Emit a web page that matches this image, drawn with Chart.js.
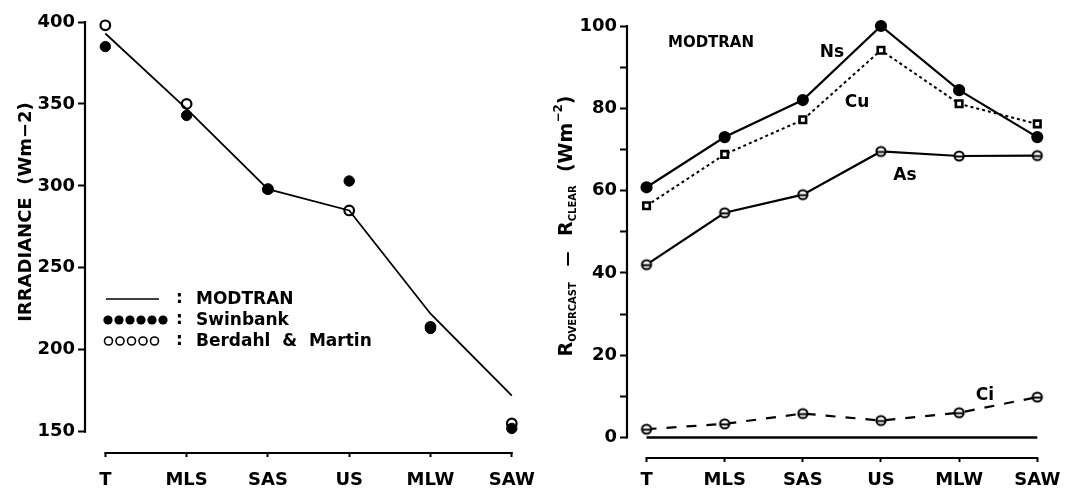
<!DOCTYPE html>
<html>
<head>
<meta charset="utf-8">
<script src="https://cdn.jsdelivr.net/npm/chart.js@4.4.1/dist/chart.umd.min.js"></script>
<style>
  html, body { margin: 0; padding: 0; background: #fff; }
  #wrap { position: relative; width: 1085px; height: 494px; }
  .panel { position: absolute; top: 0; height: 494px; }
  #p1 { left: 0; width: 540px; }
  #p2 { left: 540px; width: 545px; }
</style>
</head>
<body>
<div id="wrap">
  <div class="panel" id="p1"><canvas id="c1" width="540" height="494"></canvas></div>
  <div class="panel" id="p2"><canvas id="c2" width="545" height="494"></canvas></div>
</div>
<script>
// Standard atmospheres
const atmospheres = ['T', 'MLS', 'SAS', 'US', 'MLW', 'SAW'];

// Clear-sky downward irradiance (W m-2)
const modtranIrr  = [393, 347, 298, 285, 222, 172];
const swinbankIrr = [385, 343, 298, 303, 213, 152];
const berdahlIrr  = [398, 350, 298, 285, 214, 155];
const irrTicks    = [150, 200, 250, 300, 350, 400];

// Overcast minus clear irradiance (W m-2), MODTRAN, per cloud type
const nsForcing    = [60.8, 73, 82, 100, 84.4, 73];
const cuForcing    = [56.3, 68.8, 77.2, 94.1, 81.1, 76.2];
const asForcing    = [42, 54.6, 59, 69.5, 68.4, 68.5];
const ciForcing    = [2, 3.3, 5.8, 4.1, 6, 9.8];
const clearForcing = [0, 0, 0, 0, 0, 0];
const forcingTicks = [0, 10, 20, 30, 40, 50, 60, 70, 80, 90, 100];

const FONT = '"DejaVu Sans", sans-serif';
const tickFont = { family: FONT, size: 18, weight: 'bold' };

const toXY = vals => vals.map((v, i) => ({ x: i, y: v }));

// keep the plot area fixed: no extra room reserved for overhanging tick labels
const fixX = h => s => { s.height = h; s.paddingLeft = 0; s.paddingRight = 0; };
const fixY = w => s => { s.width = w; s.paddingTop = 0; s.paddingBottom = 0; };

// circle with a horizontal bar through it
function barCircle(r, lw) {
  const s = Math.ceil(2 * r + lw + 2);
  const c = document.createElement('canvas');
  c.width = c.height = s;
  const g = c.getContext('2d');
  g.fillStyle = '#fff'; g.strokeStyle = '#000'; g.lineWidth = lw;
  g.beginPath(); g.arc(s / 2, s / 2, r, 0, Math.PI * 2); g.fill(); g.stroke();
  g.beginPath(); g.moveTo(s / 2 - r, s / 2 + 0.5); g.lineTo(s / 2 + r, s / 2 + 0.5); g.stroke();
  return c;
}
const barMarker = barCircle(4.6, 2);

// detached axis lines: y from the top tick to the bottom tick, x from first to last category
const axisLines = {
  id: 'axisLines',
  afterDraw(chart, args, opts) {
    const { ctx, chartArea, scales: { x, y } } = chart;
    ctx.save();
    ctx.strokeStyle = '#000';
    ctx.lineWidth = 2.2;
    ctx.beginPath();
    ctx.moveTo(chartArea.left, y.getPixelForValue(opts.yTop) - 1);
    ctx.lineTo(chartArea.left, y.getPixelForValue(opts.yBottom) + 1);
    ctx.moveTo(x.getPixelForValue(0) - 1, chartArea.bottom);
    ctx.lineTo(x.getPixelForValue(atmospheres.length - 1) + 1, chartArea.bottom);
    ctx.stroke();
    ctx.restore();
  }
};

// rotated axis title built from runs (normal / subscript / superscript)
function drawRunsRotated(ctx, runs, cy, baseX) {
  ctx.save();
  ctx.translate(baseX, cy);
  ctx.rotate(-Math.PI / 2);
  ctx.fillStyle = '#000';
  ctx.textBaseline = 'alphabetic';
  let total = 0;
  runs.forEach(r => { ctx.font = `bold ${r.size}px ${FONT}`; r.w = ctx.measureText(r.t).width; total += r.w; });
  let x = -total / 2;
  runs.forEach(r => {
    ctx.font = `bold ${r.size}px ${FONT}`;
    ctx.fillText(r.t, x, r.dy || 0);
    x += r.w;
  });
  ctx.restore();
}

const irrTitle = {
  id: 'irrTitle',
  afterDraw(chart) {
    drawRunsRotated(chart.ctx, [
      { t: 'IRRADIANCE  (Wm\u22122)', size: 18 }
    ], 212, 31);
  }
};

const irrLegend = {
  id: 'irrLegend',
  afterDraw(chart) {
    const ctx = chart.ctx;
    ctx.save();
    ctx.fillStyle = '#000';
    ctx.strokeStyle = '#000';
    ctx.font = `bold 17px ${FONT}`;
    ctx.textBaseline = 'middle';
    const rows = [
      { y: 299, label: 'MODTRAN' },
      { y: 320, label: 'Swinbank' },
      { y: 341, label: 'Berdahl  &  Martin' }
    ];
    // sample line
    ctx.lineWidth = 1.6;
    ctx.beginPath(); ctx.moveTo(106, rows[0].y); ctx.lineTo(159, rows[0].y); ctx.stroke();
    // filled dots
    for (let i = 0; i < 6; i++) {
      ctx.beginPath(); ctx.arc(108 + i * 11, rows[1].y, 4.6, 0, Math.PI * 2); ctx.fill();
    }
    // open circles
    ctx.lineWidth = 1.6;
    for (let i = 0; i < 5; i++) {
      ctx.beginPath(); ctx.arc(108.5 + i * 11.5, rows[2].y, 4, 0, Math.PI * 2); ctx.stroke();
    }
    rows.forEach(r => {
      ctx.fillText(':', 176, r.y);
      ctx.fillText(r.label, 196, r.y + 1);
    });
    ctx.restore();
  }
};

new Chart(document.getElementById('c1'), {
  type: 'line',
  data: {
    datasets: [
      { label: 'MODTRAN', data: toXY(modtranIrr), borderColor: '#000', borderWidth: 1.8,
        pointRadius: 0, tension: 0, clip: false },
      { label: 'Swinbank', data: toXY(swinbankIrr), showLine: false, pointStyle: 'circle',
        pointRadius: 5.2, pointBackgroundColor: '#000', pointBorderColor: '#000', pointBorderWidth: 1, clip: false },
      { label: 'Berdahl & Martin', data: toXY(berdahlIrr), showLine: false, pointStyle: 'circle',
        pointRadius: 4.8, pointBackgroundColor: '#fff', pointBorderColor: '#000', pointBorderWidth: 2.2, clip: false }
    ]
  },
  options: {
    responsive: false,
    animation: false,
    layout: { padding: { top: 22, right: 16, bottom: 0, left: 0 } },
    plugins: { legend: { display: false }, tooltip: { enabled: false },
      axisLines: { yTop: 400, yBottom: 150 } },
    scales: {
      x: {
        type: 'linear', min: -0.25, max: 5.15,
        afterBuildTicks: s => { s.ticks = atmospheres.map((_, i) => ({ value: i })); },
        afterFit: fixX(41),
        ticks: { callback: v => atmospheres[v], font: tickFont, color: '#000', padding: 13,
                 maxRotation: 0, autoSkip: false },
        grid: { drawOnChartArea: false, drawTicks: true, tickLength: 4, tickWidth: 2, color: '#000' },
        border: { display: false }
      },
      y: {
        min: 137, max: 400,
        afterBuildTicks: s => { s.ticks = irrTicks.map(v => ({ value: v })); },
        afterFit: fixY(85),
        ticks: { font: tickFont, color: '#000', padding: 3 },
        grid: { drawOnChartArea: false, drawTicks: true, tickLength: 7, tickWidth: 2, color: '#000' },
        border: { display: false }
      }
    }
  },
  plugins: [axisLines, irrTitle, irrLegend]
});

const forcingTitle = {
  id: 'forcingTitle',
  afterDraw(chart) {
    drawRunsRotated(chart.ctx, [
      { t: 'R', size: 19 },
      { t: 'OVERCAST', size: 10, dy: 4 },
      { t: '   \u2014   ', size: 15 },
      { t: 'R', size: 19 },
      { t: 'CLEAR', size: 10, dy: 4 },
      { t: '  (Wm', size: 19 },
      { t: '\u22122', size: 12, dy: -10 },
      { t: ')', size: 19 }
    ], 226, 32);
  }
};

const cloudLabels = {
  id: 'cloudLabels',
  afterDraw(chart) {
    const ctx = chart.ctx;
    ctx.save();
    ctx.fillStyle = '#000';
    ctx.textAlign = 'center';
    ctx.textBaseline = 'middle';
    ctx.font = `bold 15px ${FONT}`;
    ctx.fillText('MODTRAN', 171, 43);
    ctx.font = `bold 17px ${FONT}`;
    ctx.fillText('Ns', 292, 53);
    ctx.fillText('Cu', 317, 103);
    ctx.fillText('As', 365, 176);
    ctx.fillText('Ci', 445, 396);
    ctx.restore();
  }
};

new Chart(document.getElementById('c2'), {
  type: 'line',
  data: {
    datasets: [
      { label: 'Ns', data: toXY(nsForcing), borderColor: '#000', borderWidth: 2.2, tension: 0,
        pointStyle: 'circle', pointRadius: 5, pointBackgroundColor: '#000', pointBorderColor: '#000', clip: false },
      { label: 'Cu', data: toXY(cuForcing), borderColor: '#000', borderWidth: 2, borderDash: [3, 3], tension: 0,
        pointStyle: 'rect', pointRadius: 4.6, pointBackgroundColor: '#fff', pointBorderColor: '#000',
        pointBorderWidth: 2.6, clip: false },
      { label: 'As', data: toXY(asForcing), borderColor: '#000', borderWidth: 2.2, tension: 0,
        pointStyle: barMarker, clip: false },
      { label: 'Ci', data: toXY(ciForcing), borderColor: '#000', borderWidth: 2.2, borderDash: [10, 10], tension: 0,
        pointStyle: barMarker, clip: false },
      { label: 'Clear', data: toXY(clearForcing), borderColor: '#000', borderWidth: 2.6, tension: 0,
        pointRadius: 0, clip: false }
    ]
  },
  options: {
    responsive: false,
    animation: false,
    layout: { padding: { top: 26, right: 36, bottom: 0, left: 0 } },
    plugins: { legend: { display: false }, tooltip: { enabled: false },
      axisLines: { yTop: 100, yBottom: 0 } },
    scales: {
      x: {
        type: 'linear', min: -0.25, max: 5.15,
        afterBuildTicks: s => { s.ticks = atmospheres.map((_, i) => ({ value: i })); },
        afterFit: fixX(36),
        ticks: { callback: v => atmospheres[v], font: tickFont, color: '#000', padding: 8,
                 maxRotation: 0, autoSkip: false },
        grid: { drawOnChartArea: false, drawTicks: true, tickLength: 4, tickWidth: 2, color: '#000' },
        border: { display: false }
      },
      y: {
        min: -5, max: 100,
        afterBuildTicks: s => { s.ticks = forcingTicks.map(v => ({ value: v })); },
        afterFit: fixY(87),
        ticks: { callback: v => (v % 20 === 0 ? v : ''), font: tickFont, color: '#000', padding: 3 },
        grid: { drawOnChartArea: false, drawTicks: true, tickLength: 7, tickWidth: 2, color: '#000' },
        border: { display: false }
      }
    }
  },
  plugins: [axisLines, forcingTitle, cloudLabels]
});
</script>
</body>
</html>
